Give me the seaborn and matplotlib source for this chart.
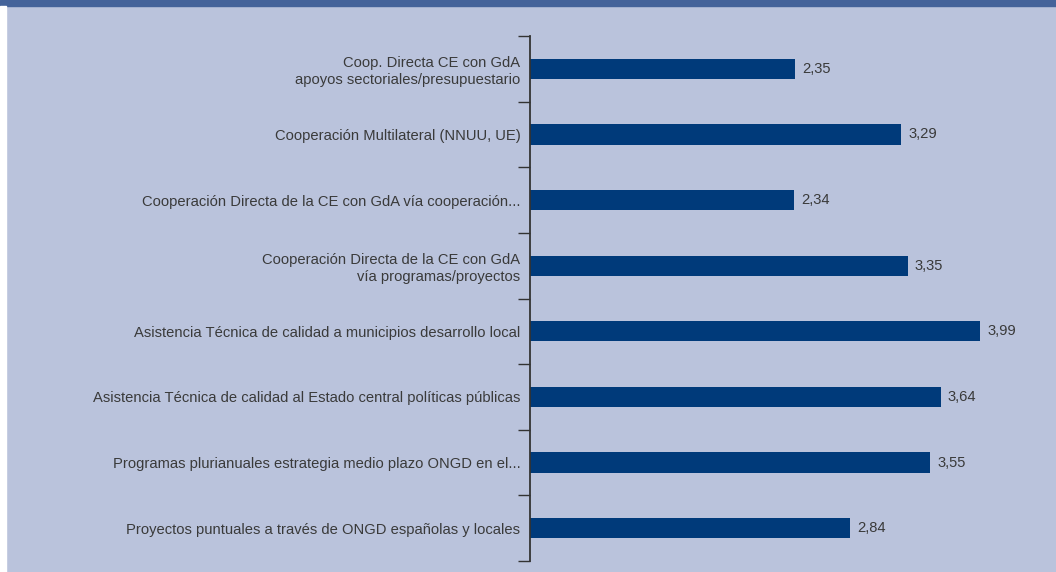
import seaborn as sns
import matplotlib.pyplot as plt
import pandas as pd
from matplotlib.patches import Rectangle
from matplotlib.ticker import FixedLocator

categorias = [
    "Coop. Directa CE con GdA\napoyos sectoriales/presupuestario",
    "Cooperación Multilateral (NNUU, UE)",
    "Cooperación Directa de la CE con GdA vía cooperación...",
    "Cooperación Directa de la CE con GdA\nvía programas/proyectos",
    "Asistencia Técnica de calidad a municipios desarrollo local",
    "Asistencia Técnica de calidad al Estado central políticas públicas",
    "Programas plurianuales estrategia medio plazo ONGD en el...",
    "Proyectos puntuales a través de ONGD españolas y locales",
]
valores = [2.35, 3.29, 2.34, 3.35, 3.99, 3.64, 3.55, 2.84]
etiquetas = ["2,35", "3,29", "2,34", "3,35", "3,99", "3,64", "3,55", "2,84"]

fondo = "#bac3dc"
barra = "#003a7a"
texto = "#3a3a3a"

sns.set_style("white")
plt.rcParams["font.family"] = ["Liberation Sans", "DejaVu Sans"]

df = pd.DataFrame({"cat": categorias, "val": valores})

fig = plt.figure(figsize=(10.56, 5.72), dpi=100, facecolor=fondo)
fig.patches.append(Rectangle((0, 1 - 6 / 572), 1, 6 / 572, transform=fig.transFigure,
                             color="#44639a", zorder=0))
fig.patches.append(Rectangle((0, 0), 6 / 1056, 1 - 6 / 572, transform=fig.transFigure,
                             color="white", zorder=0))
ax = fig.add_axes([530 / 1056, 1 - 561 / 572, 520 / 1056, 525 / 572])
ax.set_facecolor(fondo)

sns.barplot(data=df, x="val", y="cat", orient="h", color=barra, width=0.31,
            saturation=1, linewidth=0, ax=ax)

ax.set_xlim(0, 520 / 112.8)
ax.set_ylim(len(categorias) - 0.5, -0.5)
ax.set_xlabel("")
ax.set_ylabel("")
ax.set_xticks([])

for s in ["top", "right", "bottom"]:
    ax.spines[s].set_visible(False)
ax.spines["left"].set_color("#333333")
ax.spines["left"].set_linewidth(1.3)

ax.tick_params(axis="y", which="major", length=0, pad=7, labelsize=10.6, labelcolor=texto)
ax.yaxis.set_minor_locator(FixedLocator([i - 0.5 for i in range(len(categorias) + 1)]))
ax.tick_params(axis="y", which="minor", left=True, length=8.5, width=1, color="#333333")
for lab in ax.get_yticklabels():
    lab.set_horizontalalignment("right")
    lab.set_multialignment("right")
    lab.set_linespacing(1.25)

for i, (v, t) in enumerate(zip(valores, etiquetas)):
    ax.annotate(t, (v, i), xytext=(5, 0), textcoords="offset points",
                va="center", ha="left", fontsize=10.6, color=texto)

fig.savefig("out.png", dpi=100, facecolor=fondo)
